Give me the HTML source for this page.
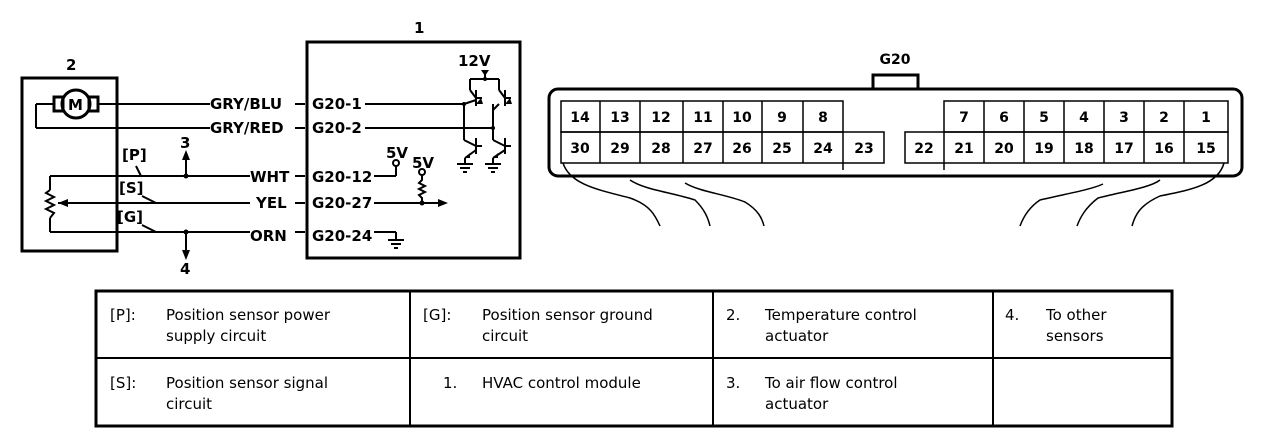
<!DOCTYPE html>
<html><head><meta charset="utf-8"><style>
html,body{margin:0;padding:0;background:#fff;}
svg{display:block;}
.b{font-family:"DejaVu Sans","Liberation Sans",sans-serif;font-weight:bold;font-size:15px;fill:#000;}
.t{font-family:"DejaVu Sans","Liberation Sans",sans-serif;font-size:15px;fill:#000;}
.c{font-family:"DejaVu Sans","Liberation Sans",sans-serif;font-weight:bold;font-size:14px;fill:#000;text-anchor:middle;}
</style></head><body>
<svg width="1264" height="438" viewBox="0 0 1264 438" xmlns="http://www.w3.org/2000/svg">
<g stroke="#000" fill="none" stroke-width="2">
<rect x="22" y="78" width="95" height="173" stroke-width="3"/>
<rect x="307" y="42" width="213" height="216" stroke-width="3"/>
<circle cx="76" cy="104" r="14" stroke-width="3"/>
<rect x="54" y="97" width="9" height="14" stroke-width="3"/>
<rect x="89" y="97" width="9" height="14" stroke-width="3"/>
<line x1="98" y1="104" x2="210" y2="104"/>
<line x1="54" y1="104" x2="36" y2="104"/>
<line x1="36" y1="104" x2="36" y2="128"/>
<line x1="36" y1="128" x2="210" y2="128"/>
<line x1="295" y1="104" x2="305" y2="104"/>
<line x1="295" y1="128" x2="305" y2="128"/>
<line x1="365" y1="104" x2="464" y2="104"/>
<line x1="365" y1="128" x2="493" y2="128"/>
<line x1="464" y1="104" x2="464" y2="140"/>
<line x1="493" y1="104" x2="493" y2="140"/>
<line x1="470" y1="79" x2="499" y2="79"/>
<line x1="485" y1="72" x2="485" y2="79"/>
<line x1="470" y1="79" x2="470" y2="90"/><line x1="470" y1="90" x2="476" y2="98"/>
<line x1="499" y1="79" x2="499" y2="90"/><line x1="499" y1="90" x2="505" y2="98"/>
<line x1="476" y1="90" x2="476" y2="106"/><line x1="505" y1="90" x2="505" y2="106"/>
<line x1="476" y1="98" x2="482" y2="98"/><line x1="505" y1="98" x2="511" y2="98"/>
<line x1="464" y1="104" x2="476" y2="100"/><line x1="493" y1="110" x2="499" y2="104"/>
<line x1="464" y1="140" x2="476" y2="146"/><line x1="493" y1="140" x2="505" y2="146"/>
<line x1="476" y1="138" x2="476" y2="154"/><line x1="505" y1="138" x2="505" y2="154"/>
<line x1="476" y1="146" x2="482" y2="146"/><line x1="505" y1="146" x2="511" y2="146"/>
<line x1="476" y1="150" x2="465" y2="158"/><line x1="505" y1="150" x2="493" y2="158"/>
<line x1="465" y1="158" x2="465" y2="164"/><line x1="493" y1="158" x2="493" y2="164"/>
<line x1="457" y1="164" x2="473" y2="164"/><line x1="485" y1="164" x2="501" y2="164"/>
<line x1="460" y1="168" x2="470" y2="168"/><line x1="488" y1="168" x2="498" y2="168"/>
<line x1="463" y1="172" x2="467" y2="172"/><line x1="491" y1="172" x2="495" y2="172"/>
<line x1="50" y1="176" x2="250" y2="176"/>
<line x1="50" y1="176" x2="50" y2="190"/>
<line x1="295" y1="176" x2="305" y2="176"/>
<line x1="374" y1="176" x2="396" y2="176"/>
<line x1="396" y1="176" x2="396" y2="166"/>
<circle cx="396" cy="163" r="3"/>
<line x1="186" y1="176" x2="186" y2="160"/>
<line x1="58" y1="203" x2="250" y2="203"/>
<line x1="295" y1="203" x2="305" y2="203"/>
<line x1="374" y1="203" x2="438" y2="203"/>
<circle cx="422" cy="172" r="3"/>
<polyline points="422,175 422,180 419,183 425,186 419,189 425,192 419,195 422,198 422,203"/>
<line x1="50" y1="232" x2="250" y2="232"/>
<line x1="50" y1="232" x2="50" y2="218"/>
<line x1="295" y1="232" x2="305" y2="232"/>
<line x1="374" y1="232" x2="396" y2="232"/>
<line x1="396" y1="232" x2="396" y2="240"/>
<line x1="388" y1="240" x2="404" y2="240"/>
<line x1="391" y1="244" x2="401" y2="244"/>
<line x1="394" y1="248" x2="398" y2="248"/>
<line x1="186" y1="232" x2="186" y2="252"/>
<polyline points="50,190 46,193 54,197 46,201 54,205 46,209 54,213 50,218"/>
<line x1="136" y1="166" x2="141" y2="176"/>
<line x1="142" y1="196" x2="156" y2="203"/>
<line x1="142" y1="225" x2="156" y2="232"/>
</g>
<g fill="#000">
<circle cx="186" cy="176" r="2.5"/><circle cx="186" cy="232" r="2.5"/>
<circle cx="422" cy="203" r="2.5"/><circle cx="485" cy="79" r="2"/>
<circle cx="464" cy="104" r="2"/><circle cx="493" cy="128" r="2"/>
<polygon points="186,150 182,160 190,160"/>
<polygon points="186,260 182,250 190,250"/>
<polygon points="58,203 68,199 68,207"/>
<polygon points="448,203 438,199 438,207"/>
<polygon points="485,76 481,70 489,70"/>
<polygon points="481,98 476,104 483,104"/>
<polygon points="510,98 505,104 512,104"/>
<polygon points="470,158 465,158 470,153"/>
<polygon points="498,158 493,158 498,153"/>
</g>
<text class="b" x="414" y="33">1</text>
<text class="b" x="66" y="70">2</text>
<text class="b" x="458" y="66">12V</text>
<text class="b" x="68" y="110" font-size="14">M</text>
<text class="b" x="210" y="109">GRY/BLU</text>
<text class="b" x="210" y="133">GRY/RED</text>
<text class="b" x="312" y="109">G20-1</text>
<text class="b" x="312" y="133">G20-2</text>
<text class="b" x="180" y="148">3</text>
<text class="b" x="122" y="160">[P]</text>
<text class="b" x="119" y="193">[S]</text>
<text class="b" x="117" y="222">[G]</text>
<text class="b" x="180" y="274">4</text>
<text class="b" x="250" y="182">WHT</text>
<text class="b" x="256" y="208">YEL</text>
<text class="b" x="250" y="241">ORN</text>
<text class="b" x="312" y="182">G20-12</text>
<text class="b" x="312" y="208">G20-27</text>
<text class="b" x="312" y="241">G20-24</text>
<text class="b" x="386" y="158">5V</text>
<text class="b" x="412" y="168">5V</text>

<g stroke="#000" fill="none" stroke-width="3">
<rect x="549" y="89" width="693" height="87" rx="9"/>
<rect x="873" y="75" width="45" height="14" fill="#fff"/>
</g>
<text class="c" x="895" y="64" font-size="15">G20</text>
<g stroke="#000" fill="none" stroke-width="1.5">
<rect x="561" y="101" width="282" height="31"/>
<rect x="561" y="132" width="323" height="31"/>
<line x1="600" y1="101" x2="600" y2="163"/><line x1="640" y1="101" x2="640" y2="163"/>
<line x1="683" y1="101" x2="683" y2="163"/><line x1="723" y1="101" x2="723" y2="163"/>
<line x1="762" y1="101" x2="762" y2="163"/><line x1="803" y1="101" x2="803" y2="163"/>
<line x1="843" y1="132" x2="843" y2="170"/>
<rect x="944" y="101" width="284" height="31"/>
<rect x="905" y="132" width="323" height="31"/>
<line x1="944" y1="132" x2="944" y2="170"/>
<line x1="984" y1="101" x2="984" y2="163"/><line x1="1024" y1="101" x2="1024" y2="163"/>
<line x1="1064" y1="101" x2="1064" y2="163"/><line x1="1104" y1="101" x2="1104" y2="163"/>
<line x1="1144" y1="101" x2="1144" y2="163"/><line x1="1184" y1="101" x2="1184" y2="163"/>
<path d="M563 163 C570 185 600 190 630 198 C650 205 655 215 660 226"/>
<path d="M630 180 C645 190 670 192 695 200 C705 210 708 218 710 226"/>
<path d="M685 183 C700 192 725 194 745 202 C758 210 762 218 764 226"/>
<path d="M1224 163 C1218 185 1190 190 1160 196 C1140 205 1135 215 1132 226"/>
<path d="M1160 180 C1150 188 1120 192 1098 198 C1085 208 1080 218 1077 226"/>
<path d="M1103 184 C1090 190 1065 194 1040 200 C1028 208 1023 218 1020 226"/>
</g>
<g>
<text class="c" x="580" y="122">14</text><text class="c" x="620" y="122">13</text>
<text class="c" x="661" y="122">12</text><text class="c" x="703" y="122">11</text>
<text class="c" x="742" y="122">10</text><text class="c" x="782" y="122">9</text>
<text class="c" x="823" y="122">8</text>
<text class="c" x="580" y="153">30</text><text class="c" x="620" y="153">29</text>
<text class="c" x="661" y="153">28</text><text class="c" x="703" y="153">27</text>
<text class="c" x="742" y="153">26</text><text class="c" x="782" y="153">25</text>
<text class="c" x="823" y="153">24</text><text class="c" x="864" y="153">23</text>
<text class="c" x="964" y="122">7</text><text class="c" x="1004" y="122">6</text>
<text class="c" x="1044" y="122">5</text><text class="c" x="1084" y="122">4</text>
<text class="c" x="1124" y="122">3</text><text class="c" x="1164" y="122">2</text>
<text class="c" x="1206" y="122">1</text>
<text class="c" x="924" y="153">22</text><text class="c" x="964" y="153">21</text>
<text class="c" x="1004" y="153">20</text><text class="c" x="1044" y="153">19</text>
<text class="c" x="1084" y="153">18</text><text class="c" x="1124" y="153">17</text>
<text class="c" x="1164" y="153">16</text><text class="c" x="1206" y="153">15</text>
</g>

<g stroke="#000" fill="none" stroke-width="3">
<rect x="96" y="291" width="1076" height="135"/>
<line x1="96" y1="358" x2="1172" y2="358" stroke-width="2"/>
<line x1="410" y1="291" x2="410" y2="426" stroke-width="2"/>
<line x1="713" y1="291" x2="713" y2="426" stroke-width="2"/>
<line x1="993" y1="291" x2="993" y2="426" stroke-width="2"/>
</g>
<text class="t" x="110" y="320">[P]:</text>
<text class="t" x="166" y="320">Position sensor power</text>
<text class="t" x="166" y="341">supply circuit</text>
<text class="t" x="423" y="320">[G]:</text>
<text class="t" x="482" y="320">Position sensor ground</text>
<text class="t" x="482" y="341">circuit</text>
<text class="t" x="726" y="320">2.</text>
<text class="t" x="765" y="320">Temperature control</text>
<text class="t" x="765" y="341">actuator</text>
<text class="t" x="1005" y="320">4.</text>
<text class="t" x="1046" y="320">To other</text>
<text class="t" x="1046" y="341">sensors</text>
<text class="t" x="110" y="388">[S]:</text>
<text class="t" x="166" y="388">Position sensor signal</text>
<text class="t" x="166" y="409">circuit</text>
<text class="t" x="443" y="388">1.</text>
<text class="t" x="482" y="388">HVAC control module</text>
<text class="t" x="726" y="388">3.</text>
<text class="t" x="765" y="388">To air flow control</text>
<text class="t" x="765" y="409">actuator</text>
</svg>
</body></html>
